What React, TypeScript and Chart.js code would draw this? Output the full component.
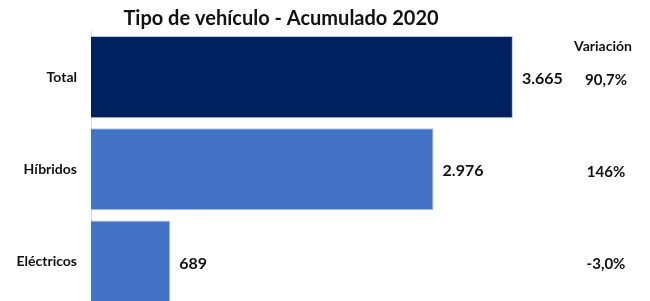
import React, { useEffect, useRef } from "react";
import { Chart, registerables } from "chart.js";

Chart.register(...registerables);

const title = "Tipo de vehículo - Acumulado 2020";
const categories = ["Total", "Híbridos", "Eléctricos"];
const values = [3665, 2976, 689];
const variationHeader = "Variación";
const variations = ["90,7%", "146%", "-3,0%"];
const barColors = ["#002060", "#4472C4", "#4472C4"];

const FONT = "Lato, 'Noto Sans', sans-serif";

function fmt(v: number): string {
  return String(v).replace(/\B(?=(\d{3})+(?!\d))/g, ".");
}

const textPlugin = {
  id: "texts",
  afterDatasetsDraw(chart: any) {
    const ctx = chart.ctx;
    ctx.save();
    ctx.fillStyle = "#111111";
    // title
    ctx.font = `bold 20px ${FONT}`;
    ctx.textAlign = "center";
    ctx.textBaseline = "middle";
    ctx.fillText(title, 281, 19);
    // header
    ctx.font = `bold 14px ${FONT}`;
    ctx.fillText(variationHeader, 603, 46);
    const meta = chart.getDatasetMeta(0);
    meta.data.forEach((bar: any, i: number) => {
      ctx.font = `bold 16px ${FONT}`;
      ctx.textAlign = "left";
      ctx.fillText(fmt(values[i]), bar.x + 9, bar.y + 2);
      ctx.font = `bold 15px ${FONT}`;
      ctx.textAlign = "center";
      ctx.fillText(variations[i], 606, bar.y + 3);
    });
    ctx.restore();
  },
};

export default function App() {
  const ref = useRef<HTMLCanvasElement | null>(null);
  useEffect(() => {
    if (!ref.current) return;
    const chart = new Chart(ref.current, {
      type: "bar",
      data: {
        labels: categories,
        datasets: [
          {
            data: values,
            backgroundColor: barColors,
            borderColor: "#b4c7e7",
            borderWidth: 1,
            borderSkipped: "left",
            categoryPercentage: 1,
            barPercentage: 0.89,
          },
        ],
      },
      options: {
        indexAxis: "y",
        responsive: false,
        animation: false,
        devicePixelRatio: 1,
        layout: { padding: { top: 31, bottom: 5, left: 0, right: 41 } },
        plugins: {
          legend: { display: false },
          tooltip: { enabled: false },
          title: { display: false },
        },
        scales: {
          x: {
            display: false,
            min: 0,
            max: 4500,
          },
          y: {
            grid: { display: false, drawTicks: false },
            border: { display: true, color: "#d9d9d9", width: 1 },
            ticks: {
              padding: 14,
              color: "#111111",
              font: { family: FONT, weight: "bold", size: 14 },
            },
            afterFit(scale: any) {
              scale.width = 91;
            },
          },
        },
      },
      plugins: [textPlugin],
    });
    return () => chart.destroy();
  }, []);
  return (
    <div
      style={{
        position: "fixed",
        left: 0,
        top: 0,
        width: 650,
        height: 301,
        overflow: "hidden",
        background: "#ffffff",
      }}
    >
      <canvas ref={ref} width={650} height={330} style={{ display: "block" }} />
    </div>
  );
}
